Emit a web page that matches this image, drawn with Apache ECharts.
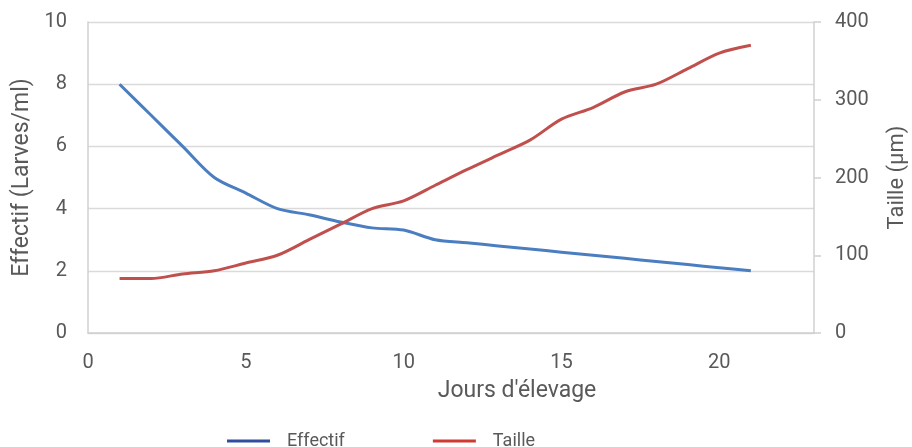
<!DOCTYPE html>
<html>
<head>
<meta charset="utf-8">
<script src="https://cdn.jsdelivr.net/npm/echarts@6/dist/echarts.min.js"></script>
<style>
  html, body { margin: 0; padding: 0; background: #fff; }
  #chart { width: 912px; height: 447px; }
</style>
</head>
<body>
<div id="chart"></div>
<script>
// jours d'élevage
const jours = [1, 2, 3, 4, 5, 6, 7, 8, 9, 10, 11, 12, 13, 14, 15, 16, 17, 18, 19, 20, 21]
// larves/ml
const effectif = [8, 7, 6, 5, 4.5, 4, 3.8, 3.57, 3.38, 3.31, 3, 2.9, 2.8, 2.7, 2.6, 2.5, 2.4, 2.3, 2.2, 2.1, 2]
// µm
const taille = [70, 70, 76, 80, 90, 100, 120, 140, 160, 170, 190, 210, 229, 248, 275, 290, 310, 320, 340, 360, 370]

const textColor = '#595959'
const font = 'Roboto'

const chart = echarts.init(document.getElementById('chart'))

chart.setOption({
  animation: false,
  textStyle: { fontFamily: font, color: textColor },
  grid: { left: 88, right: 98, top: 22, bottom: 114, outerBoundsMode: 'none' },
  legend: {
    left: 222,
    top: 427,
    icon: 'rect',
    itemWidth: 43,
    itemHeight: 3,
    itemGap: 88,
    textStyle: { fontSize: 18, color: textColor, padding: [0, 0, 0, 12] },
    data: [
      { name: 'Effectif', itemStyle: { color: '#2F4F9E' } },
      { name: 'Taille', itemStyle: { color: '#CF3B31' } }
    ]
  },
  xAxis: {
    type: 'value',
    min: 0,
    max: 23,
    interval: 5,
    name: "Jours d'élevage",
    nameLocation: 'middle',
    nameGap: 47,
    nameTextStyle: { fontSize: 23, color: textColor, padding: [0, 0, 0, 132] },
    axisLine: { lineStyle: { color: '#D0D0D0', width: 1.5 } },
    axisTick: { show: false },
    axisLabel: { fontSize: 20, color: textColor, margin: 20, showMaxLabel: false },
    splitLine: { show: false }
  },
  yAxis: [
    {
      type: 'value',
      min: 0,
      max: 10,
      interval: 2,
      name: 'Effectif (Larves/ml)',
      nameLocation: 'middle',
      nameGap: 54,
      nameTextStyle: { fontSize: 23, color: textColor },
      axisLine: { show: true, lineStyle: { color: '#D0D0D0', width: 1.5 } },
      axisTick: { show: false },
      axisLabel: { fontSize: 20, color: textColor, margin: 21 },
      splitLine: { lineStyle: { color: '#DADADA', width: 1.3 } }
    },
    {
      type: 'value',
      position: 'right',
      min: 0,
      max: 400,
      interval: 100,
      name: 'Taille (µm)',
      nameLocation: 'middle',
      nameGap: 72,
      nameTextStyle: { fontSize: 22, color: textColor },
      axisLine: { show: true, lineStyle: { color: '#D0D0D0', width: 1.5 } },
      axisTick: { show: true, inside: false, length: 7, lineStyle: { color: '#D0D0D0', width: 1.5 } },
      axisLabel: { fontSize: 20, color: textColor, margin: 21 },
      splitLine: { show: false }
    }
  ],
  series: [
    {
      name: 'Effectif',
      type: 'line',
      yAxisIndex: 0,
      smooth: 0.3,
      showSymbol: false,
      lineStyle: { color: '#4A7EC0', width: 3 },
      itemStyle: { color: '#4A7EC0' },
      data: jours.map((d, i) => [d, effectif[i]])
    },
    {
      name: 'Taille',
      type: 'line',
      yAxisIndex: 1,
      smooth: 0.3,
      showSymbol: false,
      lineStyle: { color: '#C0504D', width: 3 },
      itemStyle: { color: '#C0504D' },
      data: jours.map((d, i) => [d, taille[i]])
    }
  ]
})
</script>
</body>
</html>
